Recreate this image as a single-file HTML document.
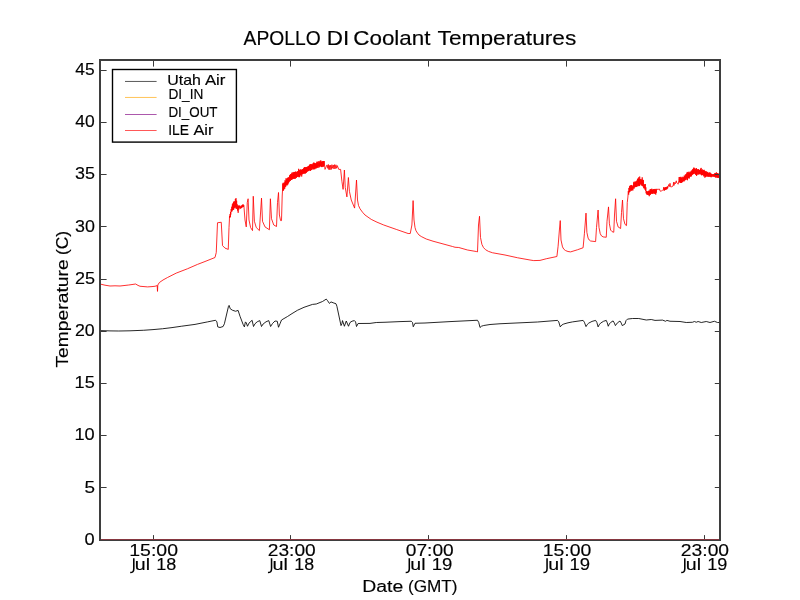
<!DOCTYPE html>
<html><head><meta charset="utf-8"><title>APOLLO DI Coolant Temperatures</title>
<style>html,body{margin:0;padding:0;background:#fff;width:800px;height:600px;overflow:hidden}body{font-family:"Liberation Sans",sans-serif}</style></head>
<body>
<svg width="800" height="600" viewBox="0 0 800 600" style="position:absolute;left:0;top:0;font-family:'Liberation Sans',sans-serif">
<rect x="0" y="0" width="800" height="600" fill="#ffffff"/>
<path d="M100.00 330.60 L110.00 330.90 L118.75 331.00 L130.00 330.80 L143.75 330.25 L153.00 329.60 L162.50 328.75 L172.00 327.60 L181.25 326.25 L195.00 324.40 L207.50 321.90 L215.60 320.25 L216.90 321.90 L217.75 326.90 L220.00 327.50 L223.10 326.50 L224.40 323.75 L228.50 306.25 L229.10 305.40 L230.25 308.75 L232.50 310.25 L235.60 311.25 L238.10 310.40 L240.00 316.25 L243.10 324.40 L244.40 326.90 L245.40 321.90 L246.25 322.75 L247.50 326.25 L249.00 323.10 L252.10 320.25 L253.50 326.50 L255.00 323.75 L257.20 321.80 L259.75 320.60 L261.50 326.50 L263.10 324.00 L266.00 321.80 L268.75 320.60 L270.60 326.50 L272.50 323.50 L275.00 321.00 L277.25 321.25 L278.50 327.25 L280.00 323.75 L281.50 320.00 L287.50 316.50 L292.00 313.60 L297.50 310.25 L304.00 307.30 L312.50 304.40 L316.25 304.00 L322.50 301.50 L326.25 299.10 L327.50 300.60 L329.40 303.40 L331.00 301.90 L333.10 302.75 L336.00 303.75 L336.90 306.25 L341.00 325.60 L341.90 323.75 L342.50 320.60 L344.40 326.25 L346.25 321.00 L348.50 326.25 L350.00 322.50 L352.00 321.20 L354.40 320.60 L355.60 321.90 L356.50 326.50 L358.10 323.50 L370.00 323.40 L376.25 322.50 L385.00 322.25 L400.00 321.60 L411.25 321.25 L412.50 322.50 L413.25 326.75 L415.00 323.25 L425.00 323.00 L450.00 321.60 L477.50 320.25 L478.75 322.50 L480.00 327.50 L481.50 326.20 L483.75 325.50 L490.00 324.50 L500.00 323.75 L537.50 322.00 L557.50 320.40 L558.75 321.90 L560.25 326.90 L561.80 325.00 L563.75 324.00 L568.00 322.80 L572.50 321.90 L583.10 320.40 L584.40 322.25 L586.00 326.60 L587.20 324.60 L588.75 323.10 L592.00 321.40 L595.60 320.40 L596.90 322.50 L598.10 326.90 L599.20 324.80 L600.60 323.10 L603.50 321.30 L606.25 320.40 L607.25 322.75 L608.25 326.25 L609.30 324.00 L610.60 322.50 L613.10 320.90 L614.40 323.10 L615.40 325.60 L617.50 322.75 L620.00 321.00 L621.25 323.10 L622.25 325.60 L625.00 324.00 L626.00 320.60 L627.50 319.10 L632.50 318.50 L638.75 318.50 L646.25 320.00 L651.25 319.50 L655.00 320.40 L662.50 320.10 L665.60 321.25 L666.90 320.40 L670.00 321.25 L680.00 321.50 L686.25 322.50 L692.50 322.25 L694.40 321.50 L696.25 322.25 L698.10 321.50 L701.25 322.50 L706.25 321.50 L710.00 322.50 L714.40 321.25 L717.50 322.50 L720.00 322.50" fill="none" stroke="#000" stroke-width="0.85" stroke-linejoin="round"/>
<path d="M100.00 284.00 L105.00 285.20 L110.00 286.00 L115.00 285.80 L120.00 286.00 L128.75 285.00 L133.00 284.40 L135.60 284.00 L138.00 285.40 L140.00 286.25 L147.50 286.90 L152.00 286.60 L155.00 286.25 L157.20 285.60 L157.50 291.40 L157.80 285.00 L159.40 282.50 L163.00 280.00 L167.50 277.50 L176.25 273.10 L187.50 268.75 L197.50 264.40 L205.00 261.50 L215.00 257.50 L216.25 252.50 L217.50 222.75 L221.25 222.25 L222.50 245.60 L225.00 248.10 L228.25 249.40 L229.00 227.50 L229.40 220.00 L229.50 216.15 L229.83 217.86 L230.10 214.09 L230.32 217.04 L230.55 211.90 L230.78 214.56 L231.16 208.99 L231.54 211.62 L231.81 206.69 L232.07 211.30 L232.39 204.30 L232.70 210.04 L232.94 203.29 L233.21 209.95 L233.47 202.15 L233.73 209.49 L234.09 201.24 L234.48 207.62 L234.83 201.48 L235.04 208.16 L235.36 199.02 L235.69 207.16 L235.98 198.17 L236.28 208.88 L236.62 200.72 L236.97 208.62 L237.30 204.48 L237.54 210.56 L237.89 206.45 L238.17 212.79 L238.46 205.71 L238.82 209.50 L239.11 205.33 L239.49 207.61 L239.74 205.93 L240.06 208.49 L240.34 206.62 L240.72 208.65 L241.05 205.76 L241.42 208.01 L241.77 205.55 L242.00 207.66 L242.22 205.17 L242.49 206.68 L242.73 204.65 L242.94 206.54 L243.18 204.51 L243.46 206.87 L243.85 205.35 L244.07 208.05 L245.00 220.00 L246.25 226.90 L247.25 202.50 L248.10 198.75 L249.00 220.00 L250.60 227.50 L252.50 230.60 L253.25 196.25 L254.40 221.25 L256.25 227.50 L259.40 230.60 L261.50 198.10 L262.50 221.25 L265.00 226.90 L269.40 229.75 L270.40 198.75 L271.50 218.75 L273.75 225.00 L276.50 226.50 L277.50 202.50 L278.50 192.50 L279.40 215.00 L280.60 220.60 L281.50 220.60 L282.20 196.00 L282.60 189.00 L282.80 183.63 L283.00 190.88 L283.23 182.79 L283.52 190.39 L283.84 183.55 L284.06 189.28 L284.40 182.43 L284.74 188.67 L285.07 180.28 L285.31 186.87 L285.52 181.07 L285.76 186.53 L286.04 178.31 L286.40 184.97 L286.64 179.28 L286.94 185.53 L287.22 178.19 L287.44 184.60 L287.77 177.83 L288.00 184.30 L288.34 177.16 L288.61 182.95 L288.83 177.94 L289.19 181.93 L289.53 175.63 L289.79 180.92 L289.99 174.90 L290.28 181.02 L290.63 174.12 L290.87 179.35 L291.17 174.24 L291.39 179.97 L291.67 173.36 L291.94 179.81 L292.23 172.33 L292.51 179.00 L292.84 173.55 L293.17 178.76 L293.46 172.57 L293.67 178.60 L293.92 171.96 L294.22 178.79 L294.49 171.98 L294.78 178.48 L295.07 171.97 L295.39 178.63 L295.63 171.55 L295.97 177.01 L296.25 172.21 L296.46 177.88 L296.81 171.80 L297.13 176.62 L297.49 171.36 L297.76 177.03 L298.10 171.22 L298.39 176.40 L298.64 168.82 L298.94 177.20 L299.19 169.86 L299.40 177.10 L299.77 170.61 L299.98 176.38 L300.20 169.82 L300.54 175.09 L300.89 169.26 L301.11 174.42 L301.38 169.97 L301.69 176.52 L302.03 169.70 L302.31 174.29 L302.67 169.07 L302.96 173.76 L303.19 169.23 L303.44 173.63 L303.69 168.23 L303.95 172.84 L304.15 167.59 L304.38 173.37 L304.60 167.22 L304.88 173.68 L305.17 167.16 L305.43 173.34 L305.74 167.35 L305.94 172.46 L306.27 167.33 L306.48 172.70 L306.80 167.01 L307.05 171.72 L307.32 166.77 L307.69 171.47 L308.05 166.32 L308.25 170.86 L308.54 166.24 L308.74 171.03 L309.01 165.71 L309.26 170.01 L309.55 164.86 L309.87 170.65 L310.13 164.22 L310.45 170.88 L310.79 164.11 L311.12 170.13 L311.41 164.49 L311.74 169.97 L312.10 163.94 L312.33 168.52 L312.60 164.68 L312.89 169.31 L313.21 163.06 L313.54 169.30 L313.83 162.46 L314.16 168.97 L314.40 162.99 L314.73 169.33 L314.99 163.18 L315.33 168.55 L315.54 163.53 L315.86 167.86 L316.07 163.48 L316.38 168.34 L316.63 162.50 L316.91 167.14 L317.14 161.54 L317.35 167.51 L317.71 162.20 L317.95 168.03 L318.24 162.50 L318.61 166.40 L318.89 161.03 L319.13 167.40 L319.34 162.30 L319.61 166.22 L319.87 161.58 L320.07 166.76 L320.29 160.60 L320.64 166.04 L320.91 160.57 L321.17 166.26 L321.38 162.03 L321.63 167.05 L321.87 161.45 L322.14 167.09 L322.48 161.35 L322.84 166.47 L323.04 161.27 L323.37 166.62 L323.58 161.05 L323.86 166.18 L324.19 161.06 L325.00 169.40 L326.90 165.00 L327.20 165.17 L327.80 168.35 L328.32 164.45 L328.85 169.60 L329.47 165.44 L329.95 169.81 L330.49 165.23 L331.28 169.48 L331.88 164.66 L332.46 168.27 L333.27 164.98 L333.96 168.96 L334.51 164.64 L335.13 168.78 L335.91 164.78 L336.62 168.26 L337.29 165.61 L338.75 169.40 L340.60 169.40 L341.90 181.25 L343.10 189.40 L344.40 170.00 L345.25 187.50 L346.90 196.90 L348.40 177.50 L349.40 191.25 L351.25 200.00 L354.60 208.10 L356.50 180.00 L357.50 200.00 L358.50 205.50 L360.00 208.75 L362.50 212.20 L365.00 215.00 L371.25 219.40 L377.00 222.20 L383.75 225.00 L396.25 229.40 L408.10 233.50 L410.25 233.50 L411.90 225.00 L413.10 200.60 L414.00 220.00 L415.00 227.50 L416.00 230.80 L417.50 233.10 L419.00 235.00 L421.25 236.50 L426.25 239.00 L433.00 241.20 L440.00 243.10 L452.50 246.50 L455.00 247.25 L458.75 247.50 L467.50 250.00 L476.25 251.50 L477.50 251.90 L478.50 225.00 L479.50 216.25 L480.50 237.50 L481.90 244.40 L483.50 247.60 L485.60 249.75 L488.50 251.40 L492.50 252.75 L505.00 255.00 L517.50 257.75 L530.00 260.00 L533.75 260.60 L540.00 260.40 L546.25 258.75 L556.90 256.50 L558.10 246.25 L559.40 230.00 L560.25 220.60 L561.00 240.00 L562.50 246.90 L563.80 249.20 L565.60 250.60 L568.00 251.50 L570.60 251.90 L577.50 249.75 L583.10 247.75 L584.40 233.75 L586.00 213.10 L586.90 232.50 L588.10 238.10 L589.20 240.00 L590.60 241.00 L595.60 241.60 L596.50 227.50 L598.10 210.00 L599.00 227.50 L600.25 233.75 L601.50 235.90 L603.10 236.90 L606.25 237.25 L607.00 221.25 L608.50 206.90 L609.40 223.75 L610.60 230.00 L612.00 231.60 L613.75 232.25 L614.50 215.00 L615.60 198.75 L616.50 221.25 L618.10 226.90 L620.60 228.50 L621.50 212.50 L622.50 200.00 L623.50 218.75 L625.00 224.40 L626.50 225.60 L627.25 202.50 L627.90 197.00 L628.30 191.13 L628.69 194.62 L628.92 187.94 L629.30 192.38 L629.65 186.15 L629.87 191.93 L630.24 185.50 L630.48 190.46 L630.81 185.49 L631.12 190.66 L631.37 184.97 L631.63 190.43 L631.96 185.80 L632.21 190.12 L632.55 186.48 L632.85 190.46 L633.10 185.12 L633.35 188.33 L633.64 182.38 L633.99 188.68 L634.24 181.62 L634.60 187.43 L634.94 182.51 L635.24 186.99 L635.53 181.63 L635.76 187.09 L636.15 181.47 L636.37 186.90 L636.74 180.65 L637.12 186.54 L637.49 178.69 L637.82 186.06 L638.09 179.18 L638.35 185.53 L638.59 177.43 L638.86 186.17 L639.15 179.26 L639.43 185.94 L639.70 176.56 L639.99 185.29 L640.20 178.99 L640.58 183.90 L640.95 179.34 L641.33 184.93 L641.67 179.61 L641.88 185.79 L642.21 177.35 L642.46 185.88 L642.84 179.82 L643.13 186.63 L643.37 180.10 L643.73 188.20 L644.00 184.68 L644.35 188.21 L644.69 184.36 L644.91 189.57 L645.30 184.03 L645.55 190.74 L645.85 187.36 L646.11 193.29 L646.44 190.97 L646.77 194.42 L647.03 191.18 L647.37 194.63 L647.63 191.68 L647.94 194.90 L648.33 191.03 L648.69 195.14 L648.91 190.64 L649.27 196.21 L649.54 190.69 L649.92 194.74 L650.20 189.15 L650.46 194.68 L650.69 189.30 L650.93 193.73 L651.18 189.53 L651.51 193.64 L651.78 188.73 L652.04 193.20 L652.35 189.71 L652.63 193.86 L652.86 189.55 L653.14 193.37 L653.53 189.26 L653.80 193.44 L654.19 189.11 L654.53 193.55 L654.90 188.95 L655.19 193.83 L655.42 189.47 L655.75 194.58 L656.07 188.90 L656.31 192.78 L656.68 189.19 L658.10 189.40 L659.40 189.00 L660.30 191.25 L661.50 190.90 L662.50 190.30 L663.40 189.60 L663.75 187.14 L663.98 190.59 L664.28 187.79 L664.56 190.43 L664.92 187.54 L665.17 189.86 L665.53 187.37 L665.81 189.82 L666.04 187.19 L666.41 189.27 L666.76 187.03 L666.99 189.19 L667.31 186.35 L667.63 188.33 L668.75 184.50 L669.50 186.50 L670.00 183.30 L670.60 186.80 L671.25 186.90 L673.10 186.00 L673.60 182.20 L674.00 185.40 L674.60 182.50 L675.30 183.80 L676.25 180.80 L676.80 183.00 L677.50 183.60 L678.20 184.20 L678.80 180.50 L679.20 177.00 L679.52 182.43 L679.87 177.10 L680.11 182.31 L680.34 176.87 L680.63 183.02 L680.96 178.01 L681.31 182.92 L681.61 177.48 L681.84 182.63 L682.19 176.75 L682.57 181.97 L682.95 177.62 L683.32 181.03 L683.67 177.14 L683.93 181.55 L684.23 175.58 L684.49 180.55 L684.70 176.25 L685.08 180.25 L685.32 174.69 L685.63 179.89 L686.00 174.08 L686.36 178.55 L686.69 173.39 L686.95 179.84 L687.22 171.94 L687.46 180.22 L687.82 172.60 L688.21 178.28 L688.47 172.52 L688.71 177.99 L689.01 171.65 L689.26 178.50 L689.47 172.60 L689.75 176.70 L690.06 172.80 L690.36 176.15 L690.61 171.74 L690.94 176.83 L691.22 170.82 L691.55 175.93 L691.87 170.45 L692.22 174.93 L692.43 169.67 L692.69 174.24 L692.90 169.12 L693.13 174.15 L693.44 168.34 L693.68 173.95 L693.90 167.52 L694.23 173.32 L694.58 168.32 L694.87 173.74 L695.12 169.11 L695.47 174.62 L695.80 168.69 L696.09 174.79 L696.35 168.06 L696.60 175.99 L696.86 169.13 L697.24 174.62 L697.61 169.47 L697.98 174.38 L698.31 169.02 L698.67 174.43 L698.96 169.87 L699.22 173.80 L699.45 169.96 L699.66 173.70 L699.93 170.13 L700.15 174.49 L700.49 168.73 L700.80 174.12 L701.16 167.90 L701.53 175.16 L701.76 170.09 L701.97 175.28 L702.30 169.39 L702.56 174.97 L702.90 170.66 L703.19 174.60 L703.45 170.14 L703.72 176.33 L704.08 169.80 L704.37 175.83 L704.64 170.75 L704.89 177.68 L705.25 171.29 L705.49 176.91 L705.70 171.62 L706.06 176.29 L706.33 171.38 L706.71 176.56 L707.05 172.12 L707.37 176.30 L707.71 171.90 L707.98 176.79 L708.35 173.08 L708.56 176.55 L708.94 172.68 L709.31 176.63 L709.61 172.56 L709.94 176.81 L710.18 172.68 L710.52 176.56 L710.87 173.39 L711.16 177.25 L711.41 173.96 L711.77 176.49 L712.02 174.26 L712.26 176.60 L712.65 174.30 L713.03 176.40 L713.42 174.16 L713.71 176.56 L713.93 174.29 L714.15 176.82 L714.49 173.67 L714.78 176.65 L715.06 173.00 L715.35 177.28 L715.64 173.28 L716.00 177.73 L716.37 172.31 L716.66 177.14 L716.89 173.01 L717.22 177.63 L717.51 173.33 L717.79 177.72 L718.04 173.39 L718.32 177.52 L718.53 173.83 L718.89 178.04 L719.11 174.15 L719.45 177.62 L719.81 174.63" fill="none" stroke="#ff0000" stroke-width="0.82" stroke-linejoin="round"/>
<g fill="#3e3e3e" shape-rendering="crispEdges">
<rect x="99" y="59" width="2" height="482"/><rect x="719" y="59" width="2" height="482"/><rect x="99" y="59" width="622" height="2"/><rect x="99" y="540" width="622" height="1"/>
<rect x="101" y="539" width="618" height="1" fill="#86363f"/>
</g>
<g stroke="#3a3a3a" stroke-width="1">
<line x1="101" y1="487.5" x2="106.6" y2="487.5"/>
<line x1="719" y1="487.5" x2="714.8" y2="487.5"/>
<line x1="101" y1="435.5" x2="106.6" y2="435.5"/>
<line x1="719" y1="435.5" x2="714.8" y2="435.5"/>
<line x1="101" y1="383.5" x2="106.6" y2="383.5"/>
<line x1="719" y1="383.5" x2="714.8" y2="383.5"/>
<line x1="101" y1="331.5" x2="106.6" y2="331.5"/>
<line x1="719" y1="331.5" x2="714.8" y2="331.5"/>
<line x1="101" y1="279.5" x2="106.6" y2="279.5"/>
<line x1="719" y1="279.5" x2="714.8" y2="279.5"/>
<line x1="101" y1="226.5" x2="106.6" y2="226.5"/>
<line x1="719" y1="226.5" x2="714.8" y2="226.5"/>
<line x1="101" y1="174.5" x2="106.6" y2="174.5"/>
<line x1="719" y1="174.5" x2="714.8" y2="174.5"/>
<line x1="101" y1="122.5" x2="106.6" y2="122.5"/>
<line x1="719" y1="122.5" x2="714.8" y2="122.5"/>
<line x1="101" y1="70.5" x2="106.6" y2="70.5"/>
<line x1="719" y1="70.5" x2="714.8" y2="70.5"/>
<line x1="153.5" y1="539" x2="153.5" y2="535.1"/>
<line x1="153.5" y1="61" x2="153.5" y2="66.6"/>
<line x1="290.5" y1="539" x2="290.5" y2="535.1"/>
<line x1="290.5" y1="61" x2="290.5" y2="66.6"/>
<line x1="428.5" y1="539" x2="428.5" y2="535.1"/>
<line x1="428.5" y1="61" x2="428.5" y2="66.6"/>
<line x1="566.5" y1="539" x2="566.5" y2="535.1"/>
<line x1="566.5" y1="61" x2="566.5" y2="66.6"/>
<line x1="704.5" y1="539" x2="704.5" y2="535.1"/>
<line x1="704.5" y1="61" x2="704.5" y2="66.6"/>
</g>
<rect x="112.5" y="69.5" width="123.9" height="72.6" fill="#fff" stroke="#000" stroke-width="1.39"/>
<line x1="125.0" y1="81.45" x2="156.6" y2="81.45" stroke="#000000" stroke-width="0.66"/>
<line x1="125.0" y1="97.45" x2="156.6" y2="97.45" stroke="#ffa500" stroke-width="0.66"/>
<line x1="125.0" y1="114.50" x2="156.6" y2="114.50" stroke="#800080" stroke-width="0.66"/>
<line x1="125.0" y1="130.50" x2="156.6" y2="130.50" stroke="#ff0000" stroke-width="0.66"/>
<g id="txt" style="will-change:transform;opacity:0.999" stroke="#000" stroke-width="0.16">
<path d="M133.80 558.2 L133.80 568.7 C133.80 571.7 132.50 572.6 130.20 572.55" fill="none" stroke="#000" stroke-width="1.55"/>
<path d="M271.55 558.2 L271.55 568.7 C271.55 571.7 270.25 572.6 267.95 572.55" fill="none" stroke="#000" stroke-width="1.55"/>
<path d="M409.30 558.2 L409.30 568.7 C409.30 571.7 408.00 572.6 405.70 572.55" fill="none" stroke="#000" stroke-width="1.55"/>
<path d="M547.05 558.2 L547.05 568.7 C547.05 571.7 545.75 572.6 543.45 572.55" fill="none" stroke="#000" stroke-width="1.55"/>
<path d="M684.80 558.2 L684.80 568.7 C684.80 571.7 683.50 572.6 681.20 572.55" fill="none" stroke="#000" stroke-width="1.55"/>
<text id="t0" x="243.61" y="44.60" font-size="20.80" textLength="77.04" lengthAdjust="spacingAndGlyphs" fill="#000">APOLLO</text>
<text id="t1" x="326.84" y="44.60" font-size="20.80" textLength="22.48" lengthAdjust="spacingAndGlyphs" fill="#000">DI</text>
<text id="t2" x="353.28" y="44.60" font-size="20.80" textLength="77.20" lengthAdjust="spacingAndGlyphs" fill="#000">Coolant</text>
<text id="t3" x="437.55" y="44.60" font-size="20.80" textLength="138.77" lengthAdjust="spacingAndGlyphs" fill="#000">Temperatures</text>
<text id="t4" x="84.60" y="544.70" font-size="17.00" textLength="10.15" lengthAdjust="spacingAndGlyphs" fill="#000">0</text>
<text id="t5" x="84.41" y="492.53" font-size="17.00" textLength="10.54" lengthAdjust="spacingAndGlyphs" fill="#000">5</text>
<text id="t6" x="74.40" y="440.35" font-size="17.00" textLength="20.27" lengthAdjust="spacingAndGlyphs" fill="#000">10</text>
<text id="t7" x="74.59" y="388.18" font-size="17.00" textLength="20.18" lengthAdjust="spacingAndGlyphs" fill="#000">15</text>
<text id="t8" x="74.93" y="336.00" font-size="17.00" textLength="19.75" lengthAdjust="spacingAndGlyphs" fill="#000">20</text>
<text id="t9" x="74.90" y="283.83" font-size="17.00" textLength="20.09" lengthAdjust="spacingAndGlyphs" fill="#000">25</text>
<text id="t10" x="74.98" y="231.66" font-size="17.00" textLength="19.91" lengthAdjust="spacingAndGlyphs" fill="#000">30</text>
<text id="t11" x="74.95" y="179.48" font-size="17.00" textLength="19.96" lengthAdjust="spacingAndGlyphs" fill="#000">35</text>
<text id="t12" x="75.39" y="127.31" font-size="17.00" textLength="19.44" lengthAdjust="spacingAndGlyphs" fill="#000">40</text>
<text id="t13" x="75.39" y="75.13" font-size="17.00" textLength="19.39" lengthAdjust="spacingAndGlyphs" fill="#000">45</text>
<text id="t14" x="129.26" y="556.00" font-size="17.00" textLength="48.74" lengthAdjust="spacingAndGlyphs" fill="#000">15:00</text>
<text id="t15" x="134.86" y="570.00" font-size="17.00" textLength="15.25" lengthAdjust="spacingAndGlyphs" fill="#000">ul</text>
<text id="t16" x="156.26" y="570.00" font-size="17.00" textLength="20.03" lengthAdjust="spacingAndGlyphs" fill="#000">18</text>
<text id="t17" x="267.80" y="556.00" font-size="17.00" textLength="47.93" lengthAdjust="spacingAndGlyphs" fill="#000">23:00</text>
<text id="t18" x="272.57" y="570.00" font-size="17.00" textLength="15.42" lengthAdjust="spacingAndGlyphs" fill="#000">ul</text>
<text id="t19" x="294.29" y="570.00" font-size="17.00" textLength="19.79" lengthAdjust="spacingAndGlyphs" fill="#000">18</text>
<text id="t20" x="405.79" y="556.00" font-size="17.00" textLength="47.89" lengthAdjust="spacingAndGlyphs" fill="#000">07:00</text>
<text id="t21" x="410.38" y="570.00" font-size="17.00" textLength="15.22" lengthAdjust="spacingAndGlyphs" fill="#000">ul</text>
<text id="t22" x="431.69" y="570.00" font-size="17.00" textLength="20.63" lengthAdjust="spacingAndGlyphs" fill="#000">19</text>
<text id="t23" x="542.75" y="556.00" font-size="17.00" textLength="48.62" lengthAdjust="spacingAndGlyphs" fill="#000">15:00</text>
<text id="t24" x="548.26" y="570.00" font-size="17.00" textLength="15.25" lengthAdjust="spacingAndGlyphs" fill="#000">ul</text>
<text id="t25" x="569.42" y="570.00" font-size="17.00" textLength="20.61" lengthAdjust="spacingAndGlyphs" fill="#000">19</text>
<text id="t26" x="680.82" y="556.00" font-size="17.00" textLength="48.29" lengthAdjust="spacingAndGlyphs" fill="#000">23:00</text>
<text id="t27" x="685.86" y="570.00" font-size="17.00" textLength="15.25" lengthAdjust="spacingAndGlyphs" fill="#000">ul</text>
<text id="t28" x="707.26" y="570.00" font-size="17.00" textLength="20.14" lengthAdjust="spacingAndGlyphs" fill="#000">19</text>
<text id="t29" x="362.20" y="591.70" font-size="17.30" textLength="41.03" lengthAdjust="spacingAndGlyphs" fill="#000">Date</text>
<text id="t30" x="407.99" y="591.70" font-size="17.30" textLength="49.56" lengthAdjust="spacingAndGlyphs" fill="#000">(GMT)</text>
<text id="t31" x="167.29" y="85.00" font-size="14.50" textLength="33.64" lengthAdjust="spacingAndGlyphs" fill="#000">Utah</text>
<text id="t32" x="204.92" y="85.00" font-size="14.50" textLength="20.52" lengthAdjust="spacingAndGlyphs" fill="#000">Air</text>
<text id="t33" x="168.40" y="99.00" font-size="14.50" textLength="34.90" lengthAdjust="spacingAndGlyphs" fill="#000">DI_IN</text>
<text id="t34" x="168.43" y="117.00" font-size="14.50" textLength="49.10" lengthAdjust="spacingAndGlyphs" fill="#000">DI_OUT</text>
<text id="t35" x="168.17" y="135.00" font-size="14.50" textLength="20.72" lengthAdjust="spacingAndGlyphs" fill="#000">ILE</text>
<text id="t36" x="193.41" y="135.00" font-size="14.50" textLength="19.94" lengthAdjust="spacingAndGlyphs" fill="#000">Air</text>
<g transform="translate(68.40 367.20) rotate(-90)"><text id="tyl" x="-0.34" y="0" font-size="17.30" textLength="108.15" lengthAdjust="spacingAndGlyphs" fill="#000">Temperature</text></g>
<g transform="translate(68.40 254.00) rotate(-90)"><text id="tyl2" x="-1.07" y="0" font-size="17.30" textLength="24.16" lengthAdjust="spacingAndGlyphs" fill="#000">(C)</text></g>
</g>
</svg>
</body></html>
